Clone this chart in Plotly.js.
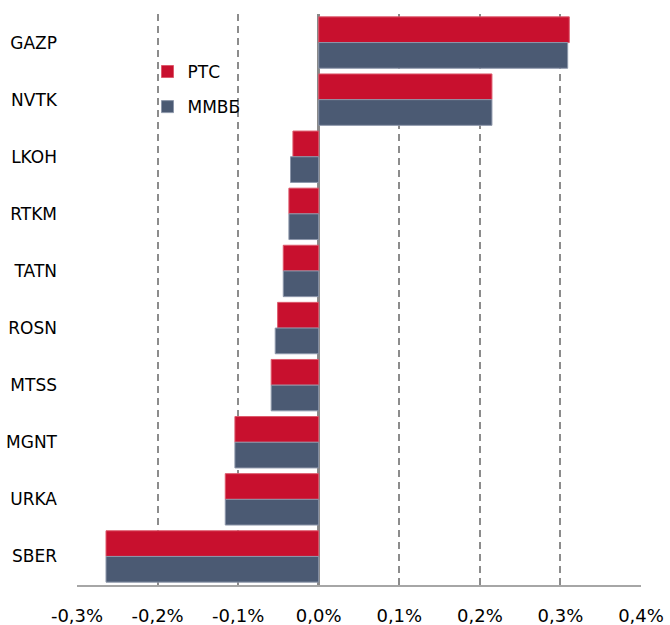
<!DOCTYPE html>
<html>
<head>
<meta charset="utf-8">
<script src="https://cdn.plot.ly/plotly-3.0.1.min.js"></script>
<style>
  body { margin: 0; background: #fff; }
  #chart { width: 670px; height: 625px; }
</style>
</head>
<body>
<div id="chart"></div>
<script>
// tickers, top to bottom
const tickers = ['GAZP', 'NVTK', 'LKOH', 'RTKM', 'TATN', 'ROSN', 'MTSS', 'MGNT', 'URKA', 'SBER'];
// change, %
const rtsValues = [0.311, 0.215, -0.032, -0.037, -0.044, -0.051, -0.059, -0.104, -0.116, -0.264];
const micexValues = [0.309, 0.215, -0.035, -0.037, -0.044, -0.054, -0.059, -0.104, -0.116, -0.264];
const seriesNames = ['РТС', 'ММВБ'];
const tickValues = [-0.3, -0.2, -0.1, 0, 0.1, 0.2, 0.3, 0.4];
const tickLabels = ['-0,3%', '-0,2%', '-0,1%', '0,0%', '0,1%', '0,2%', '0,3%', '0,4%'];

const red = '#c8102e';
const slate = '#4b5a73';

const traces = [
    {
        type: 'bar',
        orientation: 'h',
        name: seriesNames[0],
        y: tickers,
        x: rtsValues,
        legendgroup: 'a',
        marker: { color: red, line: { color: '#dd5a6c', width: 1 } },
        hoverinfo: 'x+y'
    },
    {
        type: 'bar',
        orientation: 'h',
        name: seriesNames[1],
        y: tickers,
        x: micexValues,
        legendgroup: 'b',
        marker: { color: slate, line: { color: '#8d97aa', width: 1 } },
        hoverinfo: 'x+y'
    }
];

const layout = {
    width: 670,
    height: 625,
    margin: { l: 77, r: 29, t: 14, b: 40 },
    paper_bgcolor: '#ffffff',
    plot_bgcolor: '#ffffff',
    font: { family: 'DejaVu Sans, Verdana, sans-serif', color: '#000000', size: 16 },
    barmode: 'group',
    bargap: 0.1,
    bargroupgap: 0,
    showlegend: true,
    legend: {
        x: 0.125,
        y: 0.93,
        xanchor: 'left',
        yanchor: 'top',
        traceorder: 'grouped',
        tracegroupgap: 10,
        bgcolor: 'rgba(255,255,255,0)',
        font: { size: 17 }
    },
    xaxis: {
        range: [-0.3, 0.4],
        tickvals: tickValues,
        ticktext: tickLabels,
        tickfont: { size: 18 },
        ticks: '',
        ticklabelstandoff: 14,
        showgrid: true,
        gridcolor: '#8c8c8c',
        gridwidth: 2,
        griddash: '7px,5px',
        zeroline: true,
        zerolinecolor: '#8a8a8a',
        zerolinewidth: 2.5,
        showline: true,
        linecolor: '#a6a6a6',
        linewidth: 1.5,
        fixedrange: true
    },
    yaxis: {
        type: 'category',
        autorange: 'reversed',
        showgrid: false,
        zeroline: false,
        showline: false,
        ticks: '',
        ticklabelstandoff: 19,
        tickfont: { size: 17 },
        fixedrange: true
    }
};

Plotly.newPlot('chart', traces, layout, { displayModeBar: false, staticPlot: true });
</script>
</body>
</html>
